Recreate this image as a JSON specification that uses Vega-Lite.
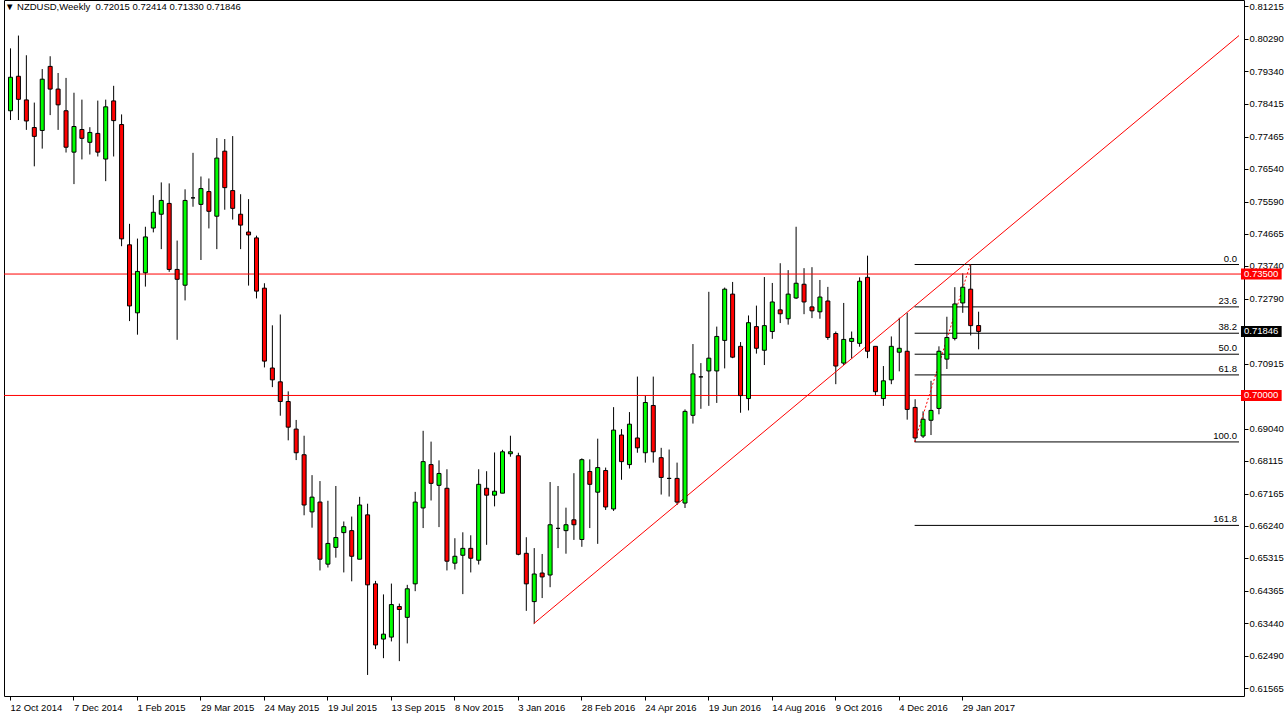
{
  "$schema": "https://vega.github.io/schema/vega-lite/v6.json",
  "width": 1240,
  "height": 696,
  "autosize": {"type": "none"},
  "padding": {"left": 4, "top": 0, "right": 43, "bottom": 23},
  "background": "white",
  "config": {
    "view": {"stroke": "black", "strokeWidth": 1},
    "axis": {"grid": false, "domain": false, "tickColor": "black", "labelColor": "black", "labelFont": "Liberation Sans", "labelFontSize": 9.5, "labelOverlap": false, "labelBound": false, "labelFlush": false}
  },
  "title": {
    "text": "\u25bc NZDUSD,Weekly\u00a0 0.72015 0.72414 0.71330 0.71846",
    "anchor": "start", "frame": "group", "offset": -11, "dx": 1,
    "font": "Liberation Sans", "fontSize": 9.5, "fontWeight": "normal", "color": "black"
  },
  "datasets": {
    "candles": [
      {"date":"2014-10-12","open":0.78207,"high":0.80006,"low":0.77940,"close":0.79173},
      {"date":"2014-10-19","open":0.79202,"high":0.80375,"low":0.77940,"close":0.78537},
      {"date":"2014-10-26","open":0.78520,"high":0.79807,"low":0.77656,"close":0.77912},
      {"date":"2014-11-02","open":0.77724,"high":0.78443,"low":0.76605,"close":0.77469},
      {"date":"2014-11-09","open":0.77639,"high":0.79409,"low":0.77116,"close":0.79117},
      {"date":"2014-11-16","open":0.79486,"high":0.79779,"low":0.78082,"close":0.78832},
      {"date":"2014-11-23","open":0.78832,"high":0.79296,"low":0.77656,"close":0.78378},
      {"date":"2014-11-30","open":0.78207,"high":0.79154,"low":0.77003,"close":0.77156},
      {"date":"2014-12-07","open":0.77014,"high":0.78727,"low":0.76093,"close":0.77753},
      {"date":"2014-12-14","open":0.77667,"high":0.78528,"low":0.76804,"close":0.77412},
      {"date":"2014-12-21","open":0.77298,"high":0.77733,"low":0.76946,"close":0.77582},
      {"date":"2014-12-28","open":0.77554,"high":0.78500,"low":0.76889,"close":0.77014},
      {"date":"2015-01-04","open":0.76815,"high":0.78528,"low":0.76178,"close":0.78321},
      {"date":"2015-01-11","open":0.78491,"high":0.78926,"low":0.76889,"close":0.77923},
      {"date":"2015-01-18","open":0.77810,"high":0.78102,"low":0.74303,"close":0.74514},
      {"date":"2015-01-25","open":0.74343,"high":0.74948,"low":0.72144,"close":0.72581},
      {"date":"2015-02-01","open":0.72382,"high":0.74522,"low":0.71752,"close":0.73576},
      {"date":"2015-02-08","open":0.73536,"high":0.74863,"low":0.73138,"close":0.74570},
      {"date":"2015-02-15","open":0.74826,"high":0.75772,"low":0.74701,"close":0.75281},
      {"date":"2015-02-22","open":0.75224,"high":0.76142,"low":0.74218,"close":0.75622},
      {"date":"2015-03-01","open":0.75536,"high":0.76113,"low":0.73564,"close":0.73633},
      {"date":"2015-03-08","open":0.73633,"high":0.74465,"low":0.71604,"close":0.73349},
      {"date":"2015-03-15","open":0.73178,"high":0.75943,"low":0.72740,"close":0.75622},
      {"date":"2015-03-22","open":0.75696,"high":0.76994,"low":0.75440,"close":0.75696},
      {"date":"2015-03-29","open":0.75508,"high":0.76312,"low":0.73905,"close":0.75963},
      {"date":"2015-04-05","open":0.75877,"high":0.76255,"low":0.74815,"close":0.75309},
      {"date":"2015-04-12","open":0.75167,"high":0.77420,"low":0.74218,"close":0.76843},
      {"date":"2015-04-19","open":0.77042,"high":0.77392,"low":0.75354,"close":0.75991},
      {"date":"2015-04-26","open":0.75906,"high":0.77477,"low":0.75070,"close":0.75394},
      {"date":"2015-05-03","open":0.75224,"high":0.75801,"low":0.74218,"close":0.74911},
      {"date":"2015-05-10","open":0.74712,"high":0.75659,"low":0.73167,"close":0.74627},
      {"date":"2015-05-17","open":0.74542,"high":0.74607,"low":0.72797,"close":0.73008},
      {"date":"2015-05-24","open":0.73093,"high":0.73235,"low":0.70808,"close":0.70990},
      {"date":"2015-05-31","open":0.70791,"high":0.72022,"low":0.70240,"close":0.70450},
      {"date":"2015-06-07","open":0.70393,"high":0.72334,"low":0.69416,"close":0.69825},
      {"date":"2015-06-14","open":0.69825,"high":0.70118,"low":0.68706,"close":0.69086},
      {"date":"2015-06-21","open":0.69030,"high":0.69294,"low":0.68137,"close":0.68348},
      {"date":"2015-06-28","open":0.68291,"high":0.68839,"low":0.66546,"close":0.66842},
      {"date":"2015-07-05","open":0.66643,"high":0.67703,"low":0.66188,"close":0.67069},
      {"date":"2015-07-12","open":0.66927,"high":0.67532,"low":0.64955,"close":0.65279},
      {"date":"2015-07-19","open":0.65137,"high":0.66964,"low":0.65040,"close":0.65734},
      {"date":"2015-07-26","open":0.65620,"high":0.67390,"low":0.65324,"close":0.65904},
      {"date":"2015-08-02","open":0.66046,"high":0.66367,"low":0.64898,"close":0.66217},
      {"date":"2015-08-09","open":0.66103,"high":0.66509,"low":0.64642,"close":0.65364},
      {"date":"2015-08-16","open":0.65279,"high":0.67078,"low":0.65279,"close":0.66842},
      {"date":"2015-08-23","open":0.66558,"high":0.66879,"low":0.61943,"close":0.64540},
      {"date":"2015-08-30","open":0.64569,"high":0.64654,"low":0.62688,"close":0.62807},
      {"date":"2015-09-06","open":0.62977,"high":0.64265,"low":0.62426,"close":0.63119},
      {"date":"2015-09-13","open":0.63034,"high":0.64577,"low":0.62909,"close":0.63972},
      {"date":"2015-09-20","open":0.63915,"high":0.64000,"low":0.62341,"close":0.63830},
      {"date":"2015-09-27","open":0.63603,"high":0.64540,"low":0.62852,"close":0.64427},
      {"date":"2015-10-04","open":0.64569,"high":0.67220,"low":0.64358,"close":0.66927},
      {"date":"2015-10-11","open":0.66756,"high":0.68981,"low":0.66177,"close":0.68092},
      {"date":"2015-10-18","open":0.68007,"high":0.68669,"low":0.66972,"close":0.67466},
      {"date":"2015-10-25","open":0.67410,"high":0.68129,"low":0.66205,"close":0.67751},
      {"date":"2015-11-01","open":0.67324,"high":0.67873,"low":0.64955,"close":0.65222},
      {"date":"2015-11-08","open":0.65165,"high":0.65884,"low":0.64983,"close":0.65364},
      {"date":"2015-11-15","open":0.65393,"high":0.66055,"low":0.64273,"close":0.65592},
      {"date":"2015-11-22","open":0.65592,"high":0.65969,"low":0.64898,"close":0.65307},
      {"date":"2015-11-29","open":0.65250,"high":0.67873,"low":0.65126,"close":0.67438},
      {"date":"2015-12-06","open":0.67324,"high":0.67816,"low":0.65694,"close":0.67125},
      {"date":"2015-12-13","open":0.67125,"high":0.68356,"low":0.66802,"close":0.67239},
      {"date":"2015-12-20","open":0.67183,"high":0.68433,"low":0.67183,"close":0.68376},
      {"date":"2015-12-27","open":0.68319,"high":0.68839,"low":0.68234,"close":0.68376},
      {"date":"2016-01-03","open":0.68262,"high":0.68348,"low":0.65393,"close":0.65421},
      {"date":"2016-01-10","open":0.65449,"high":0.65913,"low":0.63790,"close":0.64569},
      {"date":"2016-01-17","open":0.64057,"high":0.65600,"low":0.63421,"close":0.64853},
      {"date":"2016-01-24","open":0.64881,"high":0.65430,"low":0.64159,"close":0.64768},
      {"date":"2016-01-31","open":0.64824,"high":0.67504,"low":0.64472,"close":0.66273},
      {"date":"2016-02-07","open":0.66168,"high":0.67390,"low":0.65600,"close":0.66168},
      {"date":"2016-02-14","open":0.66103,"high":0.66765,"low":0.65438,"close":0.66273},
      {"date":"2016-02-21","open":0.66415,"high":0.67759,"low":0.65836,"close":0.66273},
      {"date":"2016-02-28","open":0.65847,"high":0.68186,"low":0.65637,"close":0.68149},
      {"date":"2016-03-06","open":0.67808,"high":0.68157,"low":0.66177,"close":0.67438},
      {"date":"2016-03-13","open":0.67211,"high":0.68754,"low":0.65722,"close":0.67921},
      {"date":"2016-03-20","open":0.67836,"high":0.67921,"low":0.66700,"close":0.66785},
      {"date":"2016-03-27","open":0.66728,"high":0.69663,"low":0.66671,"close":0.69001},
      {"date":"2016-04-03","open":0.68859,"high":0.69030,"low":0.67569,"close":0.68092},
      {"date":"2016-04-10","open":0.68007,"high":0.69521,"low":0.67893,"close":0.69172},
      {"date":"2016-04-17","open":0.68774,"high":0.70544,"low":0.68348,"close":0.68490},
      {"date":"2016-04-24","open":0.68348,"high":0.70004,"low":0.68064,"close":0.69797},
      {"date":"2016-05-01","open":0.69711,"high":0.70544,"low":0.68064,"close":0.68376},
      {"date":"2016-05-08","open":0.68206,"high":0.68490,"low":0.67143,"close":0.67637},
      {"date":"2016-05-15","open":0.67609,"high":0.68441,"low":0.67086,"close":0.67609},
      {"date":"2016-05-22","open":0.67609,"high":0.68064,"low":0.66842,"close":0.66927},
      {"date":"2016-05-29","open":0.66898,"high":0.69598,"low":0.66756,"close":0.69541},
      {"date":"2016-06-05","open":0.69427,"high":0.71482,"low":0.69189,"close":0.70621},
      {"date":"2016-06-12","open":0.70536,"high":0.70933,"low":0.69615,"close":0.70536},
      {"date":"2016-06-19","open":0.70706,"high":0.72988,"low":0.69700,"close":0.71075},
      {"date":"2016-06-26","open":0.70706,"high":0.71985,"low":0.69785,"close":0.71701},
      {"date":"2016-07-03","open":0.71587,"high":0.73110,"low":0.70780,"close":0.73064},
      {"date":"2016-07-10","open":0.72922,"high":0.73272,"low":0.71075,"close":0.71104},
      {"date":"2016-07-17","open":0.71416,"high":0.71539,"low":0.69501,"close":0.69996},
      {"date":"2016-07-24","open":0.69910,"high":0.72306,"low":0.69569,"close":0.72098},
      {"date":"2016-07-31","open":0.71985,"high":0.72590,"low":0.71206,"close":0.71360},
      {"date":"2016-08-07","open":0.71303,"high":0.73414,"low":0.70877,"close":0.72013},
      {"date":"2016-08-14","open":0.71843,"high":0.73243,"low":0.71632,"close":0.72695},
      {"date":"2016-08-21","open":0.72468,"high":0.73812,"low":0.72087,"close":0.72354},
      {"date":"2016-08-28","open":0.72212,"high":0.73613,"low":0.72041,"close":0.72922},
      {"date":"2016-09-04","open":0.72809,"high":0.74863,"low":0.72780,"close":0.73235},
      {"date":"2016-09-11","open":0.73206,"high":0.73670,"low":0.72343,"close":0.72695},
      {"date":"2016-09-18","open":0.72553,"high":0.73698,"low":0.72229,"close":0.72439},
      {"date":"2016-09-25","open":0.72411,"high":0.73329,"low":0.72212,"close":0.72837},
      {"date":"2016-10-02","open":0.72723,"high":0.73130,"low":0.71604,"close":0.71672},
      {"date":"2016-10-09","open":0.71786,"high":0.71843,"low":0.70325,"close":0.70848},
      {"date":"2016-10-16","open":0.70933,"high":0.72667,"low":0.70877,"close":0.71615},
      {"date":"2016-10-23","open":0.71558,"high":0.71843,"low":0.71064,"close":0.71644},
      {"date":"2016-10-30","open":0.71502,"high":0.73405,"low":0.71405,"close":0.73292},
      {"date":"2016-11-06","open":0.73405,"high":0.74030,"low":0.71075,"close":0.71274},
      {"date":"2016-11-13","open":0.71416,"high":0.71416,"low":0.69984,"close":0.70109},
      {"date":"2016-11-20","open":0.69910,"high":0.70848,"low":0.69700,"close":0.70422},
      {"date":"2016-11-27","open":0.70450,"high":0.71701,"low":0.70325,"close":0.71416},
      {"date":"2016-12-04","open":0.71246,"high":0.72240,"low":0.70695,"close":0.71360},
      {"date":"2016-12-11","open":0.71274,"high":0.72382,"low":0.69302,"close":0.69598},
      {"date":"2016-12-18","open":0.69655,"high":0.69891,"low":0.68660,"close":0.68774},
      {"date":"2016-12-25","open":0.68831,"high":0.69541,"low":0.68774,"close":0.69314},
      {"date":"2017-01-01","open":0.69285,"high":0.70422,"low":0.68859,"close":0.69569},
      {"date":"2017-01-08","open":0.69626,"high":0.71416,"low":0.69456,"close":0.71274},
      {"date":"2017-01-15","open":0.71047,"high":0.72269,"low":0.70763,"close":0.71672},
      {"date":"2017-01-22","open":0.71644,"high":0.73121,"low":0.71587,"close":0.72638},
      {"date":"2017-01-29","open":0.72667,"high":0.73519,"low":0.72382,"close":0.73121},
      {"date":"2017-02-05","open":0.73064,"high":0.73775,"low":0.71729,"close":0.72013},
      {"date":"2017-02-12","open":0.72015,"high":0.72414,"low":0.71330,"close":0.71846}
    ],
    "levels": [{"price": 0.735}, {"price": 0.70}],
    "trend": [
      {"date": "2016-01-17", "price": 0.63421},
      {"date": "2017-09-30T03:00:00Z", "price": 0.80375}
    ],
    "fib": [
      {"level": 0.0, "price": 0.73775},
      {"level": 23.6, "price": 0.72553},
      {"level": 38.2, "price": 0.71794},
      {"level": 50.0, "price": 0.71189},
      {"level": 61.8, "price": 0.70592},
      {"level": 100.0, "price": 0.68660},
      {"level": 161.8, "price": 0.66254}
    ],
    "fibBase": [
      {"startDate": "2016-12-18", "startPrice": 0.68660, "endDate": "2017-02-05", "endPrice": 0.73775}
    ],
    "tags": [
      {"price": 0.735, "kind": "level"},
      {"price": 0.71846, "kind": "bid"},
      {"price": 0.70, "kind": "level"}
    ]
  },
  "layer": [
    {
      "data": {"name": "candles"},
      "mark": {"type": "rule", "color": "black", "strokeWidth": 1, "xOffset": 0.5, "clip": true},
      "encoding": {
        "x": {
          "field": "date", "type": "temporal", "title": null,
          "scale": {"type": "utc", "nice": false, "domain": [{"year": 2014, "month": 10, "date": 11, "hours": 3, "utc": true}, {"year": 2017, "month": 9, "date": 30, "hours": 3, "utc": true}]},
          "axis": {
            "values": [
              {"year": 2014, "month": 10, "date": 12, "utc": true},
              {"year": 2014, "month": 12, "date": 7, "utc": true},
              {"year": 2015, "month": 2, "date": 1, "utc": true},
              {"year": 2015, "month": 3, "date": 29, "utc": true},
              {"year": 2015, "month": 5, "date": 24, "utc": true},
              {"year": 2015, "month": 7, "date": 19, "utc": true},
              {"year": 2015, "month": 9, "date": 13, "utc": true},
              {"year": 2015, "month": 11, "date": 8, "utc": true},
              {"year": 2016, "month": 1, "date": 3, "utc": true},
              {"year": 2016, "month": 2, "date": 28, "utc": true},
              {"year": 2016, "month": 4, "date": 24, "utc": true},
              {"year": 2016, "month": 6, "date": 19, "utc": true},
              {"year": 2016, "month": 8, "date": 14, "utc": true},
              {"year": 2016, "month": 10, "date": 9, "utc": true},
              {"year": 2016, "month": 12, "date": 4, "utc": true},
              {"year": 2017, "month": 1, "date": 29, "utc": true}
            ],
            "tickCount": 100,
            "format": "%-d %b %Y", "title": null,
            "labelAlign": "left", "labelBaseline": "top", "labelPadding": 2, "tickSize": 4,
            "labelOverlap": false, "labelFlush": false, "labelBound": false
          }
        },
        "y": {
          "field": "low", "type": "quantitative", "title": null,
          "scale": {"domain": [0.6148, 0.81256], "nice": false, "zero": false},
          "axis": {
            "orient": "right", "title": null, "tickCount": 100,
            "values": [0.81215, 0.80290, 0.79340, 0.78415, 0.77465, 0.76540, 0.75590, 0.74665, 0.73740, 0.72790, 0.70915, 0.69040, 0.68115, 0.67165, 0.66240, 0.65315, 0.64365, 0.63440, 0.62490, 0.61565],
            "format": ".5f", "labelAlign": "left", "labelBaseline": "middle", "tickSize": 4, "labelPadding": 1,
            "labelOverlap": false, "labelFlush": false, "labelBound": false
          }
        },
        "y2": {"field": "high"}
      }
    },
    {
      "data": {"name": "levels"},
      "mark": {"type": "rule", "color": "#ff0000", "strokeWidth": 1},
      "encoding": {
        "y": {"field": "price", "type": "quantitative", "title": null, "scale": {"domain": [0.6148, 0.81256], "nice": false, "zero": false}}
      }
    },
    {
      "data": {"name": "trend"},
      "mark": {"type": "line", "color": "#ff0000", "strokeWidth": 1, "clip": true},
      "encoding": {
        "x": {"field": "date", "type": "temporal", "title": null, "scale": {"type": "utc", "nice": false, "domain": [{"year": 2014, "month": 10, "date": 11, "hours": 3, "utc": true}, {"year": 2017, "month": 9, "date": 30, "hours": 3, "utc": true}]}},
        "y": {"field": "price", "type": "quantitative", "title": null, "scale": {"domain": [0.6148, 0.81256], "nice": false, "zero": false}}
      }
    },
    {
      "data": {"name": "fib"},
      "mark": {"type": "rule", "color": "black", "strokeWidth": 1},
      "encoding": {
        "x": {"datum": {"year": 2016, "month": 12, "date": 18, "utc": true}, "type": "temporal", "title": null, "scale": {"type": "utc", "nice": false, "domain": [{"year": 2014, "month": 10, "date": 11, "hours": 3, "utc": true}, {"year": 2017, "month": 9, "date": 30, "hours": 3, "utc": true}]}},
        "x2": {"datum": {"year": 2017, "month": 9, "date": 30, "hours": 3, "utc": true}},
        "y": {"field": "price", "type": "quantitative", "title": null, "scale": {"domain": [0.6148, 0.81256], "nice": false, "zero": false}}
      }
    },
    {
      "data": {"name": "fib"},
      "mark": {"type": "text", "align": "right", "baseline": "bottom", "dy": -1, "font": "Liberation Sans", "fontSize": 9.5, "color": "black"},
      "encoding": {
        "x": {"datum": {"year": 2017, "month": 9, "date": 28, "hours": 9, "utc": true}, "type": "temporal", "title": null, "scale": {"type": "utc", "nice": false, "domain": [{"year": 2014, "month": 10, "date": 11, "hours": 3, "utc": true}, {"year": 2017, "month": 9, "date": 30, "hours": 3, "utc": true}]}},
        "y": {"field": "price", "type": "quantitative", "title": null, "scale": {"domain": [0.6148, 0.81256], "nice": false, "zero": false}},
        "text": {"field": "level", "type": "quantitative", "format": ".1f"}
      }
    },
    {
      "data": {"name": "fibBase"},
      "mark": {"type": "rule", "color": "#ff0000", "strokeWidth": 1, "strokeDash": [2, 2]},
      "encoding": {
        "x": {"field": "startDate", "type": "temporal", "title": null, "scale": {"type": "utc", "nice": false, "domain": [{"year": 2014, "month": 10, "date": 11, "hours": 3, "utc": true}, {"year": 2017, "month": 9, "date": 30, "hours": 3, "utc": true}]}},
        "x2": {"field": "endDate"},
        "y": {"field": "startPrice", "type": "quantitative", "title": null, "scale": {"domain": [0.6148, 0.81256], "nice": false, "zero": false}},
        "y2": {"field": "endPrice"}
      }
    },
    {
      "data": {"name": "candles"},
      "mark": {"type": "bar", "size": 4, "stroke": "black", "strokeWidth": 1, "xOffset": 0.5, "clip": true},
      "encoding": {
        "x": {"field": "date", "type": "temporal", "title": null, "scale": {"type": "utc", "nice": false, "domain": [{"year": 2014, "month": 10, "date": 11, "hours": 3, "utc": true}, {"year": 2017, "month": 9, "date": 30, "hours": 3, "utc": true}]}},
        "y": {"field": "open", "type": "quantitative", "title": null, "scale": {"domain": [0.6148, 0.81256], "nice": false, "zero": false}},
        "y2": {"field": "close"},
        "fill": {"condition": {"test": "datum.close >= datum.open", "value": "#00ff00"}, "value": "#ff0000"}
      }
    },
    {
      "data": {"name": "tags"},
      "mark": {"type": "bar", "orient": "horizontal", "size": 11, "clip": false},
      "encoding": {
        "x": {"datum": {"year": 2017, "month": 10, "date": 1, "hours": 21, "utc": true}, "type": "temporal", "title": null, "scale": {"type": "utc", "nice": false, "domain": [{"year": 2014, "month": 10, "date": 11, "hours": 3, "utc": true}, {"year": 2017, "month": 9, "date": 30, "hours": 3, "utc": true}]}},
        "x2": {"datum": {"year": 2017, "month": 11, "date": 6, "hours": 18, "utc": true}},
        "y": {"field": "price", "type": "quantitative", "title": null, "scale": {"domain": [0.6148, 0.81256], "nice": false, "zero": false}},
        "fill": {"condition": {"test": "datum.kind === 'bid'", "value": "black"}, "value": "#ff0000"}
      }
    },
    {
      "data": {"name": "tags"},
      "mark": {"type": "text", "align": "left", "baseline": "middle", "font": "Liberation Sans", "fontSize": 9.5, "color": "white", "clip": false},
      "encoding": {
        "x": {"datum": {"year": 2017, "month": 10, "date": 4, "hours": 12, "utc": true}, "type": "temporal", "title": null, "scale": {"type": "utc", "nice": false, "domain": [{"year": 2014, "month": 10, "date": 11, "hours": 3, "utc": true}, {"year": 2017, "month": 9, "date": 30, "hours": 3, "utc": true}]}},
        "y": {"field": "price", "type": "quantitative", "title": null, "scale": {"domain": [0.6148, 0.81256], "nice": false, "zero": false}},
        "text": {"field": "price", "type": "quantitative", "format": ".5f"}
      }
    }
  ]
}
